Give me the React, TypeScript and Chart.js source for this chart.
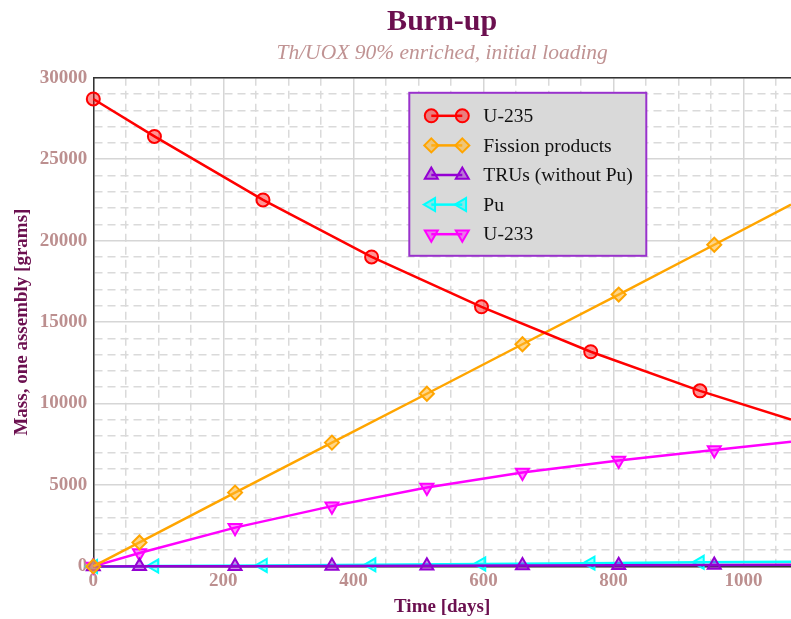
import React, { useEffect, useRef } from "react";
import { Chart, registerables } from "chart.js";

Chart.register(...registerables);

// ---- data ----
const daysA = [0, 94, 261, 428, 597, 765, 933, 1073];
const u235 = [28700, 26400, 22500, 19000, 15940, 13180, 10780, 9010];
const pu = [0, 20, 60, 100, 150, 200, 250, 290];

const daysB = [0, 71, 218, 367, 513, 660, 808, 955, 1073];
const fission = [0, 1470, 4530, 7600, 10600, 13640, 16690, 19750, 22220];
const tru = [0, 5, 15, 25, 40, 55, 70, 90, 105];
const u233 = [0, 820, 2380, 3700, 4840, 5760, 6500, 7150, 7650];

const seriesLabels = ["U-235", "Fission products", "TRUs (without Pu)", "Pu", "U-233"];

const X_MAX = 1073;
const Y_MAX = 30000;

const FONT = "'Liberation Serif', 'Times New Roman', serif";
const TICK_COLOR = "#bc8f8f";
const TITLE_COLOR = "#6b0f4f";
const MAJOR_GRID = "#d6d6d6";
const MINOR_GRID = "#dadada";

type Sty = { color: string; fill: string; style: string; rotation: number; radius: number };

const styles: Sty[] = [
  { color: "#ff0000", fill: "rgba(255,0,0,0.42)", style: "circle", rotation: 0, radius: 6.5 },
  { color: "#ffa500", fill: "rgba(255,180,40,0.55)", style: "rectRot", rotation: 0, radius: 7 },
  { color: "#9400d3", fill: "rgba(148,0,211,0.45)", style: "triangle", rotation: 0, radius: 7.5 },
  { color: "#00ffff", fill: "rgba(0,255,255,0.4)", style: "triangle", rotation: 270, radius: 7.5 },
  { color: "#ff00ff", fill: "rgba(255,0,255,0.45)", style: "triangle", rotation: 180, radius: 7.5 },
];

function pts(days: number[], vals: number[]) {
  return days.map((d, i) => ({ x: d, y: vals[i] }));
}

function drawMarker(ctx: CanvasRenderingContext2D, s: Sty, x: number, y: number) {
  const r = s.radius;
  ctx.beginPath();
  if (s.style === "circle") {
    ctx.arc(x, y, r, 0, Math.PI * 2);
  } else if (s.style === "rectRot") {
    ctx.moveTo(x - r, y);
    ctx.lineTo(x, y - r);
    ctx.lineTo(x + r, y);
    ctx.lineTo(x, y + r);
  } else {
    let rad = (s.rotation * Math.PI) / 180;
    for (let k = 0; k < 3; k++) {
      const px = x + Math.sin(rad) * r;
      const py = y - Math.cos(rad) * r;
      if (k === 0) ctx.moveTo(px, py);
      else ctx.lineTo(px, py);
      rad += (2 * Math.PI) / 3;
    }
  }
  ctx.closePath();
  ctx.fillStyle = s.fill;
  ctx.fill();
  ctx.lineWidth = 2;
  ctx.strokeStyle = s.color;
  ctx.stroke();
}

const framePlugin = {
  id: "frameTop",
  beforeDatasetsDraw(chart: any) {
    const { ctx, chartArea } = chart;
    ctx.save();
    ctx.strokeStyle = "#333333";
    ctx.lineWidth = 1.5;
    ctx.beginPath();
    ctx.moveTo(chartArea.left, chartArea.top);
    ctx.lineTo(chartArea.right, chartArea.top);
    ctx.stroke();
    ctx.restore();
  },
};

const legendPlugin = {
  id: "boxLegend",
  afterDatasetsDraw(chart: any) {
    const { ctx, chartArea } = chart;
    const left = chartArea.left + 316;
    const top = chartArea.top + 15;
    const w = 237;
    const h = 163;
    ctx.save();
    ctx.fillStyle = "#d9d9d9";
    ctx.fillRect(left, top, w, h);
    ctx.strokeStyle = "#9932cc";
    ctx.lineWidth = 2;
    ctx.strokeRect(left, top, w, h);
    seriesLabels.forEach((lab, i) => {
      const s = styles[i];
      const y = top + 23 + i * 29.6;
      const x1 = left + 22;
      const x2 = left + 53;
      ctx.strokeStyle = s.color;
      ctx.lineWidth = 2.5;
      ctx.beginPath();
      ctx.moveTo(x1, y);
      ctx.lineTo(x2, y);
      ctx.stroke();
      drawMarker(ctx, s, x1, y);
      drawMarker(ctx, s, x2, y);
      ctx.fillStyle = "#111111";
      ctx.font = `19.5px ${FONT}`;
      ctx.textBaseline = "middle";
      ctx.textAlign = "left";
      ctx.fillText(lab, left + 74, y + 1);
    });
    ctx.restore();
  },
};

export default function App() {
  const ref = useRef<HTMLCanvasElement | null>(null);

  useEffect(() => {
    if (!ref.current) return;
    const allData = [pts(daysA, u235), pts(daysB, fission), pts(daysB, tru), pts(daysA, pu), pts(daysB, u233)];
    const datasets = allData.map((d, i) => {
      const s = styles[i];
      const last = d.length - 1;
      return {
        label: seriesLabels[i],
        data: d,
        borderColor: s.color,
        backgroundColor: s.fill,
        borderWidth: 2.5,
        pointStyle: s.style,
        pointRotation: s.rotation,
        pointRadius: (c: any) => (c.dataIndex === last ? 0 : s.radius),
        pointBorderWidth: 2,
        pointBorderColor: s.color,
        pointBackgroundColor: s.fill,
        tension: 0,
        clip: false as any,
      };
    });

    const chart = new Chart(ref.current, {
      type: "line",
      data: { datasets: datasets as any },
      plugins: [framePlugin, legendPlugin],
      options: {
        responsive: false,
        animation: false,
        devicePixelRatio: 1,
        layout: { autoPadding: false, padding: { left: 0, right: 0, top: 0, bottom: 0 } },
        plugins: {
          legend: { display: false },
          tooltip: { enabled: false },
          title: {
            display: true,
            text: "Burn-up",
            fullSize: false,
            color: TITLE_COLOR,
            font: { family: FONT, size: 30, weight: "bold" },
            padding: { top: 4, bottom: 0 },
          },
          subtitle: {
            display: true,
            text: "Th/UOX 90% enriched, initial loading",
            fullSize: false,
            color: "#c09393",
            font: { family: FONT, size: 21.5, style: "italic" },
            padding: { top: 0, bottom: 12 },
          },
        },
        scales: {
          x: {
            type: "linear",
            min: 0,
            max: X_MAX,
            ticks: {
              stepSize: 50,
              autoSkip: false,
              includeBounds: false,
              maxRotation: 0,
              padding: 5,
              color: TICK_COLOR,
              font: { family: FONT, size: 19, weight: "bold", lineHeight: 1.0 },
              callback: (v: any) => (Number(v) % 200 === 0 ? String(v) : ""),
            },
            grid: {
              drawTicks: false,
              lineWidth: 1.5,
              color: (c: any) => (c.tick && c.tick.value % 200 === 0 ? MAJOR_GRID : MINOR_GRID),
            },
            border: {
              display: true,
              color: "#333333",
              width: 1.5,
              dash: (c: any) => (c.tick && c.tick.value % 200 !== 0 ? [8, 5] : []),
            } as any,
            title: {
              display: true,
              text: "Time [days]",
              color: TITLE_COLOR,
              font: { family: FONT, size: 19, weight: "bold" },
              padding: { top: 0, bottom: 0.8 },
            },
          },
          y: {
            type: "linear",
            min: 0,
            max: Y_MAX,
            ticks: {
              stepSize: 1000,
              autoSkip: false,
              padding: 6,
              color: TICK_COLOR,
              font: { family: FONT, size: 19, weight: "bold" },
              callback: (v: any) => (Number(v) % 5000 === 0 ? String(v) : ""),
            },
            grid: {
              drawTicks: false,
              lineWidth: 1.5,
              color: (c: any) => (c.tick && c.tick.value % 5000 === 0 ? MAJOR_GRID : MINOR_GRID),
            },
            border: {
              display: true,
              color: "#333333",
              width: 1.5,
              dash: (c: any) => (c.tick && c.tick.value % 5000 !== 0 ? [8, 5] : []),
            } as any,
            title: {
              display: true,
              text: "Mass, one assembly [grams]",
              color: TITLE_COLOR,
              font: { family: FONT, size: 19, weight: "bold" },
              padding: { top: 11, bottom: 0 },
            },
          },
        },
      } as any,
    });
    return () => chart.destroy();
  }, []);

  return (
    <div style={{ position: "fixed", left: 0, top: 0, width: 791, height: 619, overflow: "hidden", background: "#fff" }}>
      <canvas ref={ref} width={791} height={619} style={{ width: 791, height: 619, display: "block" }} />
    </div>
  );
}
